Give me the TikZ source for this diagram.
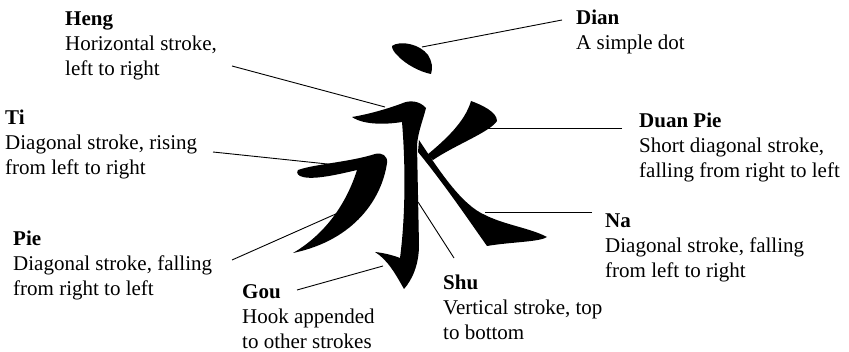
\documentclass[tikz,border=0pt]{standalone}
\usepackage{fontspec}
\setmainfont{Liberation Serif}
\usepackage{tikz}
\usetikzlibrary{positioning}
\colorlet{inkstroke}{black}

\begin{document}
\begin{tikzpicture}[x=1pt, y=-1pt,
    lbl/.style={anchor=base west, align=left, inner sep=0pt, font=\fontsize{21}{25}\selectfont},
    leader/.style={draw=black, line width=0.9pt},
    brush/.style={fill=inkstroke, draw=none}]
    \useasboundingbox (0,0) rectangle (849,352);

    % Dian
    \fill[brush] (392,46) .. controls (400,40) and (420,44) .. (428,55)
        .. controls (432,61) and (433,68) .. (431,74)
        .. controls (420,72) and (405,64) .. (397,55)
        .. controls (394,52) and (392,49) .. (392,46) -- cycle;
    % Heng, Shu and Gou
    \fill[brush] (352,117) .. controls (370,114) and (390,108) .. (403,103)
        .. controls (410,100) and (420,101) .. (426,108)
        .. controls (423,120) and (418,132) .. (417,145)
        -- (419,245)
        .. controls (419,265) and (412,280) .. (404,289)
        .. controls (396,275) and (388,260) .. (375,252)
        .. controls (385,253) and (395,256) .. (400,258)
        .. controls (405,220) and (406,170) .. (402,122)
        .. controls (390,124) and (365,126) .. (352,117) -- cycle;
    % Ti and Pie
    \fill[brush] (298,170) .. controls (315,164) and (350,162) .. (375,154)
        .. controls (382,152) and (388,156) .. (387,163)
        .. controls (382,198) and (355,240) .. (293,253)
        .. controls (322,236) and (345,208) .. (357,170)
        .. controls (340,174) and (315,180) .. (303,177)
        .. controls (298,176) and (296,173) .. (298,170) -- cycle;
    % Duan Pie
    \fill[brush] (471,101) .. controls (482,105) and (497,112) .. (497,121)
        .. controls (490,132) and (455,145) .. (433,160)
        -- (427,155)
        .. controls (445,140) and (465,122) .. (471,101) -- cycle;
    % Na
    \fill[brush] (419,140) .. controls (440,172) and (462,205) .. (485,215)
        .. controls (505,225) and (530,228) .. (547,237)
        .. controls (540,242) and (510,242) .. (487,246)
        .. controls (470,222) and (445,185) .. (418,152) -- cycle;

    % labels (placed at the baseline of their last line)
    \node[lbl] (heng) at (65,76) {\textbf{Heng}\\Horizontal stroke,\\left to right};
    \node[lbl] (ti) at (5,175) {\textbf{Ti}\\Diagonal stroke, rising\\from left to right};
    \node[lbl] (pie) at (13,296) {\textbf{Pie}\\Diagonal stroke, falling\\from right to left};
    \node[lbl] (gou) at (242,349) {\textbf{Gou}\\Hook appended\\to other strokes};
    \node[lbl] (shu) at (443,340) {\textbf{Shu}\\Vertical stroke, top\\to bottom};
    \node[lbl] (na) at (605,278) {\textbf{Na}\\Diagonal stroke, falling\\from left to right};
    \node[lbl] (duanpie) at (639,178) {\textbf{Duan Pie}\\Short diagonal stroke,\\falling from right to left};
    \node[lbl] (dian) at (576,50) {\textbf{Dian}\\A simple dot};

    % leader lines
    \coordinate (heng-in) at (232,66);   \coordinate (heng-out) at (385,107);
    \coordinate (ti-in) at (213,152);    \coordinate (ti-out) at (337,165);
    \coordinate (pie-in) at (232,260);   \coordinate (pie-out) at (338,213);
    \coordinate (gou-in) at (297,290);   \coordinate (gou-out) at (383,266);
    \coordinate (shu-in) at (454,258);   \coordinate (shu-out) at (418,202);
    \coordinate (na-in) at (592,212);    \coordinate (na-out) at (485,212);
    \coordinate (duanpie-in) at (622,128); \coordinate (duanpie-out) at (487,128);
    \coordinate (dian-in) at (562,20);   \coordinate (dian-out) at (422,47);
    \foreach \s in {heng,ti,pie,gou,shu,na,duanpie,dian}
        \draw[leader] (\s-in) -- (\s-out);
\end{tikzpicture}
\end{document}
